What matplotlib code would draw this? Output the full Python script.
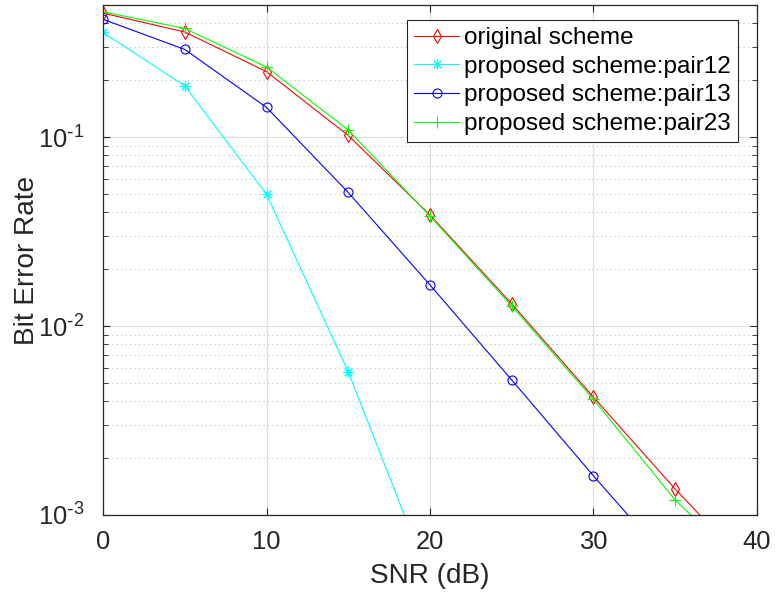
import matplotlib
matplotlib.use("Agg")
import matplotlib.pyplot as plt
from matplotlib.ticker import LogLocator, FixedLocator, FuncFormatter
import numpy as np

plt.rcParams['font.family'] = ['Liberation Sans', 'DejaVu Sans']
plt.rcParams['mathtext.default'] = 'regular'

snr = [0, 5, 10, 15, 20, 25, 30, 35, 40]

ber_original = [0.453, 0.360, 0.222, 0.102, 0.0387, 0.0131, 0.0042, 0.00137, 0.00048]
ber_pair12 = [0.358, 0.1866, 0.0498, 0.00573, 0.00045]
ber_pair13 = [0.420, 0.291, 0.1436, 0.0509, 0.0165, 0.00518, 0.00161, 0.00052, 0.00016]
ber_pair23 = [0.460, 0.376, 0.235, 0.109, 0.0382, 0.01276, 0.00409, 0.00120, 0.00046]

labels = ['original scheme', 'proposed scheme:pair12',
          'proposed scheme:pair13', 'proposed scheme:pair23']

axcol = (0.15, 0.15, 0.15)
asterisk = (8, 2, 0)

fig = plt.figure(figsize=(7.78, 5.97), dpi=100)
ax = fig.add_axes([0.1324, 0.1374, 0.8406, 0.8542])

lw = 0.8
ax.semilogy(snr, ber_original, color=(1, 0, 0), marker='d', mfc='none', ms=7.5,
            mew=lw, lw=lw, label=labels[0])
ax.semilogy(snr[:len(ber_pair12)], ber_pair12, color=(0, 1, 1), marker=asterisk,
            ms=7.5, mew=lw, lw=lw, label=labels[1])
ax.semilogy(snr, ber_pair13, color=(0, 0, 1), marker='o', mfc='none', ms=6.5,
            mew=lw, lw=lw, label=labels[2])
ax.semilogy(snr, ber_pair23, color=(0, 1, 0), marker='+', ms=8, mew=lw, lw=lw,
            label=labels[3])

ax.set_xlim(0, 40)
ax.set_ylim(1e-3, 0.5)
ax.xaxis.set_major_locator(FixedLocator([0, 10, 20, 30, 40]))
ax.yaxis.set_major_locator(LogLocator(base=10, numticks=10))
ax.yaxis.set_minor_locator(LogLocator(base=10, subs=np.arange(2, 10), numticks=10))


def pow10_label(v, pos):
    e = int(round(np.log10(v)))
    sign = r'\text{-}' if e < 0 else ''
    return r'$10^{%s%d}$' % (sign, abs(e))


ax.yaxis.set_major_formatter(FuncFormatter(pow10_label))

ax.grid(True, which='major', color=(0.87, 0.87, 0.87), lw=0.8, ls='-')
ax.grid(True, which='minor', axis='y', color=(0.75, 0.75, 0.75), lw=0.8, ls=(0, (1, 3)))
ax.set_axisbelow(True)

ax.tick_params(which='both', direction='in', top=True, right=True, colors=axcol,
               labelcolor=axcol, labelsize=18.4)
ax.tick_params(which='major', length=5)
ax.tick_params(which='minor', length=3.5)
ax.tick_params(axis='x', which='major', pad=10.5)
ax.tick_params(axis='y', which='major', pad=13.5)
for s in ax.spines.values():
    s.set_color(axcol)
    s.set_linewidth(0.9)

ax.set_xlabel('SNR (dB)', fontsize=20.2, color=axcol, labelpad=7)
ax.set_ylabel('Bit Error Rate', fontsize=20.2, color=axcol)
ax.yaxis.set_label_coords(-0.097, 0.5)

leg = ax.legend(loc='upper right', fontsize=17.5, frameon=True, fancybox=False,
                edgecolor=axcol, framealpha=1, bbox_to_anchor=(738 / 778, 1 - 20 / 597),
                bbox_transform=fig.transFigure, borderaxespad=0,
                handlelength=1.85, handletextpad=0.2, labelspacing=0.27,
                borderpad=0.3)
leg.get_frame().set_linewidth(0.8)

fig.savefig('out.png', dpi=100)
